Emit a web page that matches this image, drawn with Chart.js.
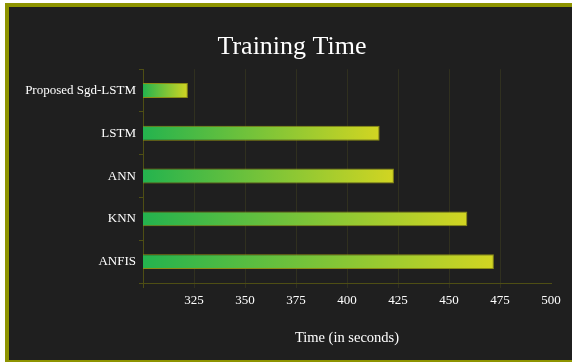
<!DOCTYPE html>
<html>
<head>
<meta charset="utf-8">
<script src="https://cdn.jsdelivr.net/npm/chart.js@4/dist/chart.umd.min.js"></script>
<style>
  html, body { margin: 0; padding: 0; background: #ffffff; overflow: hidden; }
  #frame {
    position: absolute; left: 5px; top: 3px; width: 567px; height: 359px;
    box-sizing: border-box; background: #1f1f1f;
    border-left: 4px solid #8e9400; border-top: 4px solid #8e9400; border-bottom: 2px solid #8e9400;
    border-right: none;
  }
  #wrap { position: absolute; left: 0; top: 0; width: 563px; height: 353px; }
</style>
</head>
<body>
<div id="frame"><div id="wrap"><canvas id="c" width="563" height="353"></canvas></div></div>
<script>
// Training time per model, in seconds
const models = ['Proposed Sgd-LSTM', 'LSTM', 'ANN', 'KNN', 'ANFIS'];
const trainingSeconds = [322, 416, 423, 459, 472];
const axisMin = 300;
const axisMax = 500;
const axisStep = 25;

const SERIF = '"Liberation Serif", "DejaVu Serif", serif';
const GREEN = '#24b34e';
const YELLOW = '#d2d522';

// Each bar fades from green at the axis to yellow at its own end
function barGradient(ctx) {
  const chart = ctx.chart;
  if (!chart.chartArea || !chart.scales.x) return GREEN;
  const x0 = chart.scales.x.getPixelForValue(axisMin);
  const x1 = chart.scales.x.getPixelForValue(ctx.raw);
  const g = chart.ctx.createLinearGradient(x0, 0, x1, 0);
  g.addColorStop(0, GREEN);
  g.addColorStop(1, YELLOW);
  return g;
}

// Centre the title over the whole canvas rather than the padded layout box
const titleCentering = {
  id: 'titleCentering',
  afterLayout(chart) {
    const t = chart.titleBlock;
    if (!t) return;
    const shift = 12;
    t.left += shift;
    t.right += shift;
  }
};

function xGridColor(c) {
  if (c.index === 0) return '#4e4e14';
  if (c.tick && c.tick.value === axisMax) return 'rgba(0,0,0,0)';
  return 'rgba(110,110,30,0.22)';
}

new Chart(document.getElementById('c'), {
  type: 'bar',
  data: {
    labels: models,
    datasets: [{
      data: trainingSeconds,
      backgroundColor: barGradient,
      borderColor: '#8a8c14',
      borderWidth: 1,
      borderSkipped: 'start',
      barPercentage: 0.35,
      categoryPercentage: 1
    }]
  },
  plugins: [titleCentering],
  options: {
    indexAxis: 'y',
    responsive: false,
    animation: false,
    layout: { padding: { left: 0, right: 21, top: 0, bottom: 0 } },
    plugins: {
      legend: { display: false },
      tooltip: { enabled: false },
      title: {
        display: true,
        text: 'Training Time',
        color: '#ffffff',
        font: { family: SERIF, size: 26, weight: 'normal' },
        padding: { top: 25, bottom: 6 }
      }
    },
    scales: {
      x: {
        min: axisMin,
        max: axisMax,
        afterFit: s => { s.height = 77; },
        ticks: {
          stepSize: axisStep,
          color: '#ffffff',
          padding: 5,
          font: { family: SERIF, size: 13 },
          callback: v => (v === axisMin ? '' : v)
        },
        grid: {
          color: xGridColor,
          tickLength: 5
        },
        border: { display: true, color: '#4e4e14', width: 1 },
        title: {
          display: true,
          text: 'Time (in seconds)',
          color: '#ffffff',
          font: { family: SERIF, size: 14.5, weight: 'normal' },
          padding: { top: 0, bottom: 13 }
        }
      },
      y: {
        afterFit: s => { s.width = 134; },
        ticks: {
          color: '#ffffff',
          padding: 3,
          font: { family: SERIF, size: 13 }
        },
        grid: {
          offset: true,
          drawOnChartArea: false,
          color: '#4e4e14',
          tickLength: 4
        },
        border: { display: true, color: '#4e4e14', width: 1 }
      }
    }
  }
});
</script>
</body>
</html>
